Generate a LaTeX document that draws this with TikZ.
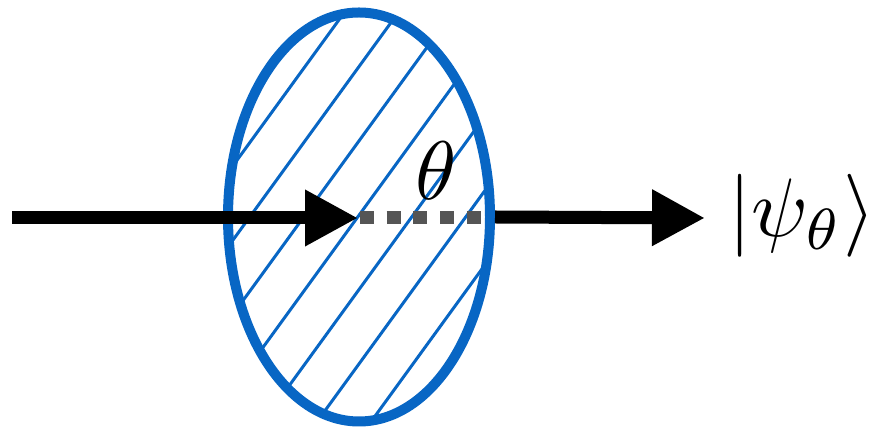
\documentclass[tikz,border=0pt]{standalone}
\usetikzlibrary{arrows.meta,shapes.geometric,calc}
\definecolor{lensblue}{RGB}{8,102,196}
\definecolor{dotgray}{RGB}{85,85,85}
\tikzset{
  beam/.style={line width=13pt, -{Triangle[length=53pt,width=53pt]}},
  hatchline/.style={lensblue, line width=3pt},
  lensrim/.style={draw=lensblue, line width=10pt, ellipse, minimum width=262pt, minimum height=409pt, inner sep=0pt},
  dotline/.style={dotgray, line width=13pt, dash pattern=on 14pt off 12.7pt},
  bigmath/.style={inner sep=0pt, scale=8.3}
}
\begin{document}
\begin{tikzpicture}[x=1pt,y=1pt]
\useasboundingbox (0,0) rectangle (876,430);
% hatching inside the lens
\begin{scope}
  \clip (359,213) ellipse [x radius=131pt, y radius=204.5pt];
  \foreach \k in {-7,...,7}{
    \draw[hatchline] ($(357,212)+(\k*54,0)+(234:330)$) -- ($(357,212)+(\k*54,0)+(54:330)$);
  }
\end{scope}
\node[lensrim] (lens) at (359,213) {};
\coordinate (start) at (12,212);
\coordinate (tip) at (358,212);
\coordinate (dotend) at (481,212);
\coordinate (rtip) at (705,212);
\draw[beam] (start) -- (tip);
\draw[dotline] (tip) ++(2,0) -- (dotend);
\draw[beam] (lens.east) -- (rtip);
\node[bigmath, anchor=base] (theta) at (436,230) {$\theta$};
\node[bigmath, anchor=base west] (ket) at (727,193) {$|\psi_\theta\rangle$};
\end{tikzpicture}
\end{document}
